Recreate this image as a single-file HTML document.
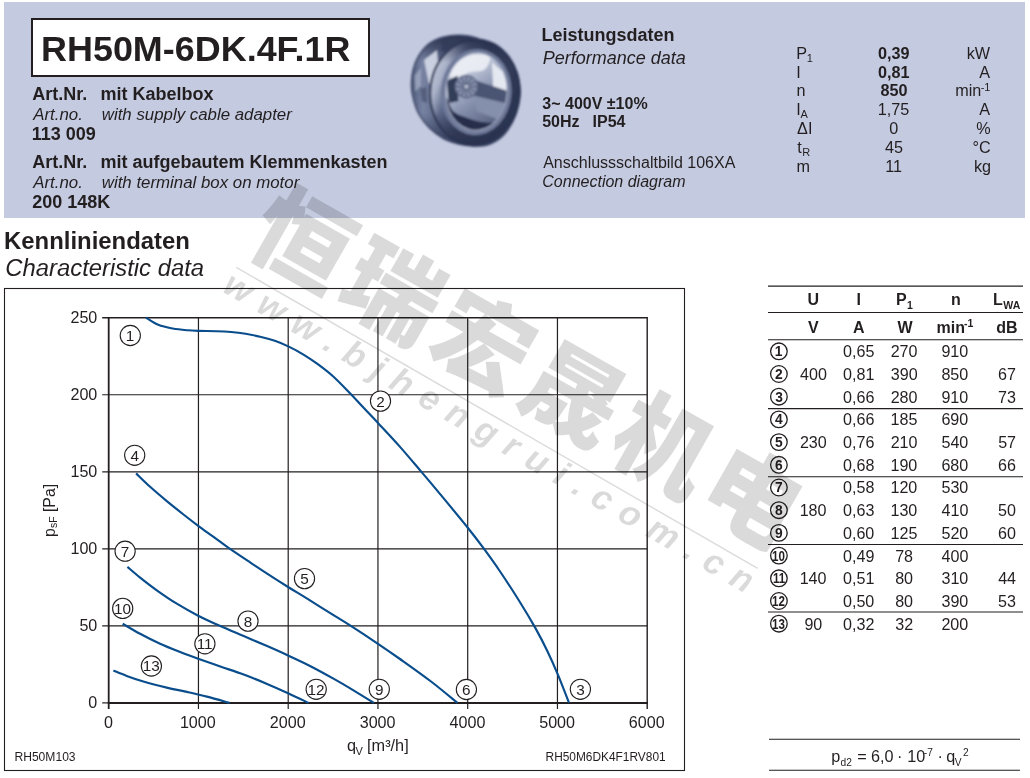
<!DOCTYPE html>
<html lang="de"><head><meta charset="utf-8"><title>RH50M-6DK.4F.1R</title>
<style>
html,body{margin:0;padding:0}
body{width:1030px;height:778px;position:relative;overflow:hidden;background:#fff;font-family:"Liberation Sans","Noto Sans CJK SC",sans-serif;color:#231f20}
.abs{position:absolute}
.band{position:absolute;left:4px;top:2px;width:1021px;height:216px;background:#c4cae0}
.title{position:absolute;left:31px;top:18px;width:335px;height:54.5px;border:2px solid #231f20;background:#fff}
.t{position:absolute;white-space:pre;transform-origin:0 0}
.b{font-weight:bold}
.i{font-style:italic}
</style></head>
<body>
<div class="band"></div>
<div class="title"></div>
<svg class="abs" style="left:400px;top:24px" width="130" height="132" viewBox="400 24 130 132">
<defs>
<filter id="fb1" x="-10%" y="-10%" width="120%" height="120%"><feGaussianBlur stdDeviation="0.9"/></filter>
<filter id="fb2" x="-30%" y="-30%" width="160%" height="160%"><feGaussianBlur stdDeviation="1.8"/></filter>
<linearGradient id="fgHull" x1="0" y1="0" x2="1" y2="0"><stop offset="0" stop-color="#4d5878"/><stop offset="0.1" stop-color="#7883a3"/><stop offset="0.25" stop-color="#5f6a8a"/><stop offset="1" stop-color="#364060"/></linearGradient>
<linearGradient id="fgV" x1="0" y1="0" x2="0" y2="1"><stop offset="0" stop-color="#242c48" stop-opacity="0.9"/><stop offset="0.24" stop-color="#272f4c" stop-opacity="0"/><stop offset="0.7" stop-color="#272f4c" stop-opacity="0"/><stop offset="1" stop-color="#272f4c" stop-opacity="0.8"/></linearGradient>
<linearGradient id="fgRing" x1="0" y1="0.2" x2="1" y2="0.6"><stop offset="0" stop-color="#c3c9d9"/><stop offset="0.16" stop-color="#aab3c9"/><stop offset="0.29" stop-color="#5f6a8a"/><stop offset="0.5" stop-color="#3a4463"/><stop offset="1" stop-color="#2a3350"/></linearGradient>
<linearGradient id="fgIn" x1="0.1" y1="0" x2="0.75" y2="1"><stop offset="0" stop-color="#e6e9f1"/><stop offset="0.3" stop-color="#bcc4d7"/><stop offset="0.6" stop-color="#8792af"/><stop offset="1" stop-color="#55607e"/></linearGradient>
</defs>
<clipPath id="fcIn"><ellipse cx="476.4" cy="91.7" rx="30.3" ry="38.2" transform="rotate(4 476.4 91.7)"/></clipPath>
<g filter="url(#fb1)">
<path d="M411.5 86.5C411.5 81.7 411.8 75.5 413.0 70.4C414.2 65.3 415.9 60.5 418.7 56.0C421.5 51.6 425.3 46.6 429.5 43.5C433.7 40.3 439.1 38.4 443.9 37.1C448.7 35.7 453.0 35.2 458.4 35.3C463.8 35.5 469.2 35.5 476.4 38.0C483.6 40.6 495.3 45.8 501.6 50.6C507.9 55.4 511.1 60.7 514.2 66.7C517.2 72.7 519.2 80.2 519.9 86.5C520.6 92.8 519.9 98.5 518.6 104.5C517.4 110.5 515.1 117.1 512.3 122.5C509.4 127.9 505.8 133.1 501.6 136.8C497.4 140.6 491.6 143.5 487.1 145.0C482.6 146.5 479.3 146.1 474.5 145.9C469.7 145.8 463.5 145.2 458.4 144.0C453.3 142.8 448.7 141.4 443.9 138.8C439.1 136.1 433.7 132.1 429.5 127.9C425.3 123.7 421.4 118.4 418.7 113.6C416.0 108.8 414.6 103.6 413.4 99.1C412.3 94.6 411.6 91.3 411.5 86.5Z" fill="url(#fgHull)"/>
<path d="M411.5 86.5C411.5 81.7 411.8 75.5 413.0 70.4C414.2 65.3 415.9 60.5 418.7 56.0C421.5 51.6 425.3 46.6 429.5 43.5C433.7 40.3 439.1 38.4 443.9 37.1C448.7 35.7 453.0 35.2 458.4 35.3C463.8 35.5 469.2 35.5 476.4 38.0C483.6 40.6 495.3 45.8 501.6 50.6C507.9 55.4 511.1 60.7 514.2 66.7C517.2 72.7 519.2 80.2 519.9 86.5C520.6 92.8 519.9 98.5 518.6 104.5C517.4 110.5 515.1 117.1 512.3 122.5C509.4 127.9 505.8 133.1 501.6 136.8C497.4 140.6 491.6 143.5 487.1 145.0C482.6 146.5 479.3 146.1 474.5 145.9C469.7 145.8 463.5 145.2 458.4 144.0C453.3 142.8 448.7 141.4 443.9 138.8C439.1 136.1 433.7 132.1 429.5 127.9C425.3 123.7 421.4 118.4 418.7 113.6C416.0 108.8 414.6 103.6 413.4 99.1C412.3 94.6 411.6 91.3 411.5 86.5Z" fill="url(#fgV)"/>
<path d="M411.5 86.5C411.5 81.7 411.8 75.5 413.0 70.4C414.2 65.3 415.9 60.5 418.7 56.0C421.5 51.6 425.3 46.6 429.5 43.5C433.7 40.3 439.1 38.4 443.9 37.1C448.7 35.7 453.0 35.2 458.4 35.3C463.8 35.5 469.2 35.5 476.4 38.0C483.6 40.6 495.3 45.8 501.6 50.6C507.9 55.4 511.1 60.7 514.2 66.7C517.2 72.7 519.2 80.2 519.9 86.5C520.6 92.8 519.9 98.5 518.6 104.5C517.4 110.5 515.1 117.1 512.3 122.5C509.4 127.9 505.8 133.1 501.6 136.8C497.4 140.6 491.6 143.5 487.1 145.0C482.6 146.5 479.3 146.1 474.5 145.9C469.7 145.8 463.5 145.2 458.4 144.0C453.3 142.8 448.7 141.4 443.9 138.8C439.1 136.1 433.7 132.1 429.5 127.9C425.3 123.7 421.4 118.4 418.7 113.6C416.0 108.8 414.6 103.6 413.4 99.1C412.3 94.6 411.6 91.3 411.5 86.5Z" fill="none" stroke="#414b69" stroke-width="1.6"/>
<path d="M424.1 59.9L436.9 50.3L439.3 77.4L428.9 83.8Z" fill="#d5dae8" opacity="0.9"/>
<path d="M442.5 41.5L457.6 37.6L452.8 50.3L440.9 51.9Z" fill="#333c59" opacity="0.85"/>
<path d="M439.3 72.6L446.8 69.8L446.8 82.2L440.4 83.8Z" fill="#3a4361" opacity="0.8"/>
<path d="M420.1 88.6L426.5 87.0L427.3 102.9L421.7 101.3Z" fill="#49536f" opacity="0.7"/>
<path d="M414.6 75.8L420.9 67.8L420.9 85.4L415.4 91.7Z" fill="#aab3c9" opacity="0.7"/>
<ellipse cx="474.8" cy="92.5" rx="45.4" ry="53.7" transform="rotate(4 474.8 92.5)" fill="url(#fgRing)"/>
<ellipse cx="474.8" cy="92.5" rx="45.4" ry="53.7" transform="rotate(4 474.8 92.5)" fill="url(#fgV)"/>
<ellipse cx="474.8" cy="92.5" rx="44.6" ry="52.9" transform="rotate(4 474.8 92.5)" fill="none" stroke="#2c3552" stroke-width="2.2"/>
<ellipse cx="476.1" cy="92.1" rx="35.4" ry="43.0" transform="rotate(4 476.1 92.1)" fill="#6f7a9a"/>
<ellipse cx="476.4" cy="91.7" rx="31.2" ry="39.2" transform="rotate(4 476.4 91.7)" fill="#aab3c9"/>
<ellipse cx="476.4" cy="91.7" rx="30.3" ry="38.2" transform="rotate(4 476.4 91.7)" fill="url(#fgIn)"/>
<g clip-path="url(#fcIn)">
<path d="M450.4 75.8C450.4 72.8 453.7 65.7 457.6 62.3C461.4 58.8 468.2 56.0 473.5 55.1C478.8 54.2 487.6 54.3 489.5 56.7C491.3 59.1 488.1 66.8 484.7 69.4C481.2 72.1 473.3 70.8 468.7 72.6C464.2 74.5 460.6 80.1 457.6 80.6C454.5 81.1 450.4 78.9 450.4 75.8Z" fill="#eceef5" opacity="0.9"/>
<path d="M491.9 62.3L507.8 75.8L507.8 104.5L493.4 94.9Z" fill="#e4e8f1"/>
<path d="M473.5 79.8L507.8 90.9L507.8 103.7L473.5 95.7Z" fill="#4a5472"/>
<path d="M473.5 95.7L507.8 103.7L500.6 120.4L476.7 110.9Z" fill="#8590ad"/>
<path d="M446.8 98.1C447.6 98.7 449.7 107.7 452.8 110.9C455.9 114.1 460.8 115.4 465.6 117.2C470.3 119.1 476.2 121.0 481.5 122.0C486.8 123.1 496.4 122.3 497.4 123.6C498.5 124.9 492.1 128.8 487.9 130.0C483.6 131.2 477.2 132.1 471.9 130.8C466.6 129.5 460.0 125.9 456.0 122.0C452.0 118.2 449.2 111.7 447.7 107.7C446.2 103.7 445.9 97.6 446.8 98.1Z" fill="#262e4b"/>
<path d="M446.8 80.6L457.6 75.8L458.4 101.3L448.8 102.9Z" fill="#333c59"/>
<circle cx="466.4" cy="86.6" r="11.2" fill="#8690ab"/>
<path d="M466.4 86.6L477.2 86.6M466.4 86.6L475.7 92.1M466.4 86.6L471.8 96.0M466.4 86.6L466.4 97.5M466.4 86.6L460.9 96.0M466.4 86.6L457.0 92.1M466.4 86.6L455.5 86.6M466.4 86.6L457.0 81.2M466.4 86.6L460.9 77.3M466.4 86.6L466.4 75.8M466.4 86.6L471.8 77.3M466.4 86.6L475.7 81.2" stroke="#4f5976" stroke-width="1.1"/>
<circle cx="466.4" cy="86.6" r="11.2" fill="none" stroke="#5b6582" stroke-width="1.2"/>
<circle cx="466.4" cy="86.6" r="2.2" fill="#b5bdd0"/>
</g>
</g>
</svg>

<svg class="abs" style="left:0;top:0" width="1030" height="778" viewBox="0 0 1030 778">
<rect x="4.5" y="288.5" width="680" height="482" fill="none" stroke="#231f20" stroke-width="1.1"/>
<path d="M198.45 317.7V708.9M288.2 317.7V708.9M377.95 317.7V708.9M467.7 317.7V708.9M557.45 317.7V708.9M102.2 625.86H647.2M102.2 548.82H647.2M102.2 471.78H647.2M102.2 394.74H647.2" stroke="#231f20" stroke-width="1.2" fill="none"/>
<path d="M102.2 317.7H647.2V702.9 M647.2 702.9v6" stroke="#231f20" stroke-width="1.4" fill="none"/>
<path d="M108.7 317.7V708.9" stroke="#231f20" stroke-width="1.8" fill="none"/>
<path d="M107.8 702.9H647.9" stroke="#231f20" stroke-width="2" fill="none"/>
<path d="M102.2 702.9H108.7" stroke="#231f20" stroke-width="1.2" fill="none"/>
<path d="M146 317.6C148.05 318.8 153.83 322.98 158.3 324.8C162.77 326.62 167.95 327.58 172.8 328.5C177.65 329.42 183.12 329.9 187.4 330.3C191.68 330.7 193.65 330.75 198.5 330.9C203.35 331.05 211.07 331.02 216.5 331.2C221.93 331.38 226.25 331.57 231.1 332C235.95 332.43 240.75 333.02 245.6 333.8C250.45 334.58 255.33 335.53 260.2 336.7C265.07 337.87 270.03 339.15 274.8 340.8C279.57 342.45 283.95 344.27 288.8 346.6C293.65 348.93 298.95 351.78 303.9 354.8C308.85 357.82 313.65 361.12 318.5 364.7C323.35 368.28 327.67 371.45 333 376.3C338.33 381.15 345.63 388.8 350.5 393.8C355.37 398.8 357.58 401.4 362.2 406.3C366.82 411.2 371.93 416.48 378.2 423.2C384.47 429.92 392.73 438.65 399.8 446.6C406.87 454.55 413.95 463.07 420.6 470.9C427.25 478.73 431.87 484.17 439.7 493.6C447.53 503.03 460.3 518.4 467.6 527.5C474.9 536.6 478.2 541.03 483.5 548.2C488.8 555.37 493.42 561.67 499.4 570.5C505.38 579.33 513.42 591.63 519.4 601.2C525.38 610.77 530.65 619.6 535.3 627.9C539.95 636.2 543.52 643.17 547.3 651C551.08 658.83 554.38 666.25 558 674.9C561.62 683.55 567.17 698.23 569 702.9" stroke="#0a4d8c" stroke-width="2.15" fill="none" stroke-linecap="butt"/>
<path d="M136.1 473.4C138.43 475.63 144.98 482.18 150.1 486.8C155.22 491.42 161.23 496.48 166.8 501.1C172.37 505.72 178.27 510.38 183.5 514.5C188.73 518.62 193.18 522.07 198.2 525.8C203.22 529.53 208.53 533.22 213.6 536.9C218.67 540.58 222.47 543.62 228.6 547.9C234.73 552.18 243.98 558.32 250.4 562.6C256.82 566.88 260.82 569.53 267.1 573.6C273.38 577.67 281.42 582.82 288.1 587C294.78 591.18 299.57 593.97 307.2 598.7C314.83 603.43 326.95 611.07 333.9 615.4C340.85 619.73 341.55 619.97 348.9 624.7C356.25 629.43 369.48 638.08 378 643.8C386.52 649.52 391.05 652.63 400 659C408.95 665.37 422.13 674.68 431.7 682C441.27 689.32 453.12 699.42 457.4 702.9" stroke="#0a4d8c" stroke-width="2.15" fill="none" stroke-linecap="butt"/>
<path d="M127.4 566.9C129.52 568.68 135.2 573.7 140.1 577.6C145 581.5 150.68 585.95 156.8 590.3C162.92 594.65 169.9 599.47 176.8 603.7C183.7 607.93 190.95 611.97 198.2 615.7C205.45 619.43 212.72 622.7 220.3 626.1C227.88 629.5 235.9 632.77 243.7 636.1C251.5 639.43 259.7 642.87 267.1 646.1C274.5 649.33 280.87 652.15 288.1 655.5C295.33 658.85 302.87 662.3 310.5 666.2C318.13 670.1 326.67 674.83 333.9 678.9C341.13 682.97 347.25 686.6 353.9 690.6C360.55 694.6 370.48 700.85 373.8 702.9" stroke="#0a4d8c" stroke-width="2.15" fill="none" stroke-linecap="butt"/>
<path d="M122.7 623.7C125.6 625.38 133.87 630.45 140.1 633.8C146.33 637.15 153.42 640.75 160.1 643.8C166.78 646.85 173.85 649.6 180.2 652.1C186.55 654.6 191.52 656.4 198.2 658.8C204.88 661.2 212.72 663.88 220.3 666.5C227.88 669.12 235.9 671.6 243.7 674.5C251.5 677.4 259.7 680.78 267.1 683.9C274.5 687.02 281.18 690.03 288.1 693.2C295.02 696.37 305.18 701.28 308.6 702.9" stroke="#0a4d8c" stroke-width="2.15" fill="none" stroke-linecap="butt"/>
<path d="M113.4 670.5C115.62 671.4 121.7 674.07 126.7 675.9C131.7 677.73 136.72 679.55 143.4 681.5C150.08 683.45 159.55 685.87 166.8 687.6C174.05 689.33 180.22 690.4 186.9 691.9C193.58 693.4 199.78 694.77 206.9 696.6C214.02 698.43 225.82 701.85 229.6 702.9" stroke="#0a4d8c" stroke-width="2.15" fill="none" stroke-linecap="butt"/>
<circle cx="130.3" cy="335.5" r="10.1" fill="#fff" stroke="#231f20" stroke-width="1.1"/>
<circle cx="380.5" cy="401.1" r="10.1" fill="#fff" stroke="#231f20" stroke-width="1.1"/>
<circle cx="580.4" cy="689.3" r="10.1" fill="#fff" stroke="#231f20" stroke-width="1.1"/>
<circle cx="134.7" cy="455.3" r="10.1" fill="#fff" stroke="#231f20" stroke-width="1.1"/>
<circle cx="304.5" cy="578.6" r="10.1" fill="#fff" stroke="#231f20" stroke-width="1.1"/>
<circle cx="466.4" cy="689.5" r="10.1" fill="#fff" stroke="#231f20" stroke-width="1.1"/>
<circle cx="125.1" cy="551.2" r="10.1" fill="#fff" stroke="#231f20" stroke-width="1.1"/>
<circle cx="248" cy="621.1" r="10.1" fill="#fff" stroke="#231f20" stroke-width="1.1"/>
<circle cx="379.3" cy="689.3" r="10.1" fill="#fff" stroke="#231f20" stroke-width="1.1"/>
<circle cx="122.7" cy="608.4" r="10.1" fill="#fff" stroke="#231f20" stroke-width="1.1"/>
<circle cx="204.9" cy="643.8" r="10.1" fill="#fff" stroke="#231f20" stroke-width="1.1"/>
<circle cx="316.2" cy="689.3" r="10.1" fill="#fff" stroke="#231f20" stroke-width="1.1"/>
<circle cx="151.4" cy="666" r="10.1" fill="#fff" stroke="#231f20" stroke-width="1.1"/>
<text transform="translate(54.6 536.9) rotate(-90)" font-size="15.8" fill="#231f20">p<tspan font-size="10.5" dy="2.6">sF</tspan><tspan dy="-2.6"> [Pa]</tspan></text>
</svg>
<svg class="abs" style="left:0;top:0" width="1030" height="778" viewBox="0 0 1030 778">
<path d="M768 286.1H1023M768 312.5H1023M768 339.8H1023M768 408.6H1023M768 476.7H1023M768 544.4H1023M768 612H1023M769 739.2H1020M769 770.3H1020" stroke="#231f20" stroke-width="1.05" fill="none"/>
<circle cx="778.9" cy="351.3" r="8.3" fill="none" stroke="#231f20" stroke-width="1.3"/>
<circle cx="778.9" cy="374" r="8.3" fill="none" stroke="#231f20" stroke-width="1.3"/>
<circle cx="778.9" cy="396.7" r="8.3" fill="none" stroke="#231f20" stroke-width="1.3"/>
<circle cx="778.9" cy="419.4" r="8.3" fill="none" stroke="#231f20" stroke-width="1.3"/>
<circle cx="778.9" cy="442.1" r="8.3" fill="none" stroke="#231f20" stroke-width="1.3"/>
<circle cx="778.9" cy="464.8" r="8.3" fill="none" stroke="#231f20" stroke-width="1.3"/>
<circle cx="778.9" cy="487.5" r="8.3" fill="none" stroke="#231f20" stroke-width="1.3"/>
<circle cx="778.9" cy="510.2" r="8.3" fill="none" stroke="#231f20" stroke-width="1.3"/>
<circle cx="778.9" cy="532.9" r="8.3" fill="none" stroke="#231f20" stroke-width="1.3"/>
<circle cx="778.9" cy="555.6" r="8.3" fill="none" stroke="#231f20" stroke-width="1.3"/>
<circle cx="778.9" cy="578.3" r="8.3" fill="none" stroke="#231f20" stroke-width="1.3"/>
<circle cx="778.9" cy="601" r="8.3" fill="none" stroke="#231f20" stroke-width="1.3"/>
<circle cx="778.9" cy="623.7" r="8.3" fill="none" stroke="#231f20" stroke-width="1.3"/>
</svg>
<span class="t b" style="left:41.35px;top:29px;font-size:35.6px;line-height:40px;transform:scaleX(1.01)">RH50M-6DK.4F.1R</span>
<span class="t b" style="left:32.15px;top:84px;font-size:18px;line-height:20px">Art.Nr.</span>
<span class="t b" style="left:100.53px;top:84px;font-size:18px;line-height:20px">mit Kabelbox</span>
<span class="t i" style="left:33.24px;top:105px;font-size:16.85px;line-height:19px">Art.no.</span>
<span class="t i" style="left:101.76px;top:105px;font-size:16.85px;line-height:19px">with supply cable adapter</span>
<span class="t b" style="left:31.72px;top:124px;font-size:18px;line-height:20px">113 009</span>
<span class="t b" style="left:32.15px;top:152px;font-size:18px;line-height:20px">Art.Nr.</span>
<span class="t b" style="left:100.53px;top:152px;font-size:18px;line-height:20px">mit aufgebautem Klemmenkasten</span>
<span class="t i" style="left:33.24px;top:173px;font-size:16.85px;line-height:19px">Art.no.</span>
<span class="t i" style="left:101.76px;top:173px;font-size:16.85px;line-height:19px">with terminal box on motor</span>
<span class="t b" style="left:32.17px;top:192px;font-size:18px;line-height:20px">200 148K</span>
<span class="t b" style="left:541.53px;top:25px;font-size:18px;line-height:20px">Leistungsdaten</span>
<span class="t i" style="left:542.66px;top:48px;font-size:18px;line-height:20px">Performance data</span>
<span class="t b" style="left:542.3px;top:95px;font-size:16px;line-height:17px">3~ 400V ±10%</span>
<span class="t b" style="left:542.22px;top:113px;font-size:16px;line-height:17px">50Hz</span>
<span class="t b" style="left:592.6px;top:113px;font-size:16px;line-height:17px">IP54</span>
<span class="t" style="left:543.2px;top:154px;font-size:16px;line-height:17px">Anschlussschaltbild 106XA</span>
<span class="t i" style="left:542.32px;top:173px;font-size:16px;line-height:17px">Connection diagram</span>
<span class="t" style="left:796.3px;top:44px;font-size:16.2px;line-height:18px">P</span>
<span class="t" style="left:806.84px;top:52px;font-size:11px;line-height:12px">1</span>
<span class="t b" style="left:878.11px;top:44px;font-size:16.2px;line-height:18px">0,39</span>
<span class="t" style="left:966.67px;top:44px;font-size:16.2px;line-height:18px">kW</span>
<span class="t" style="left:796.14px;top:63px;font-size:16.2px;line-height:18px">I</span>
<span class="t b" style="left:878.02px;top:63px;font-size:16.2px;line-height:18px">0,81</span>
<span class="t" style="left:979.23px;top:63px;font-size:16.2px;line-height:18px">A</span>
<span class="t" style="left:796.55px;top:81px;font-size:16.2px;line-height:18px">n</span>
<span class="t b" style="left:880.49px;top:81px;font-size:16.2px;line-height:18px">850</span>
<span class="t" style="left:980.71px;top:81px;font-size:11px;line-height:12px">-1</span>
<span class="t" style="left:955.17px;top:81px;font-size:16.2px;line-height:18px">min</span>
<span class="t" style="left:796.14px;top:100px;font-size:16.2px;line-height:18px">I</span>
<span class="t" style="left:800.54px;top:108px;font-size:11px;line-height:12px">A</span>
<span class="t" style="left:877.86px;top:100px;font-size:16.2px;line-height:18px">1,75</span>
<span class="t" style="left:979.23px;top:100px;font-size:16.2px;line-height:18px">A</span>
<span class="t" style="left:797.11px;top:119px;font-size:16.2px;line-height:18px">ΔI</span>
<span class="t" style="left:889.36px;top:119px;font-size:16.2px;line-height:18px">0</span>
<span class="t" style="left:976.15px;top:119px;font-size:16.2px;line-height:18px">%</span>
<span class="t" style="left:797.36px;top:138px;font-size:16.2px;line-height:18px">t</span>
<span class="t" style="left:802.25px;top:146px;font-size:11px;line-height:12px">R</span>
<span class="t" style="left:885.07px;top:138px;font-size:16.2px;line-height:18px">45</span>
<span class="t" style="left:972.42px;top:138px;font-size:16.2px;line-height:18px">°C</span>
<span class="t" style="left:796.55px;top:157px;font-size:16.2px;line-height:18px">m</span>
<span class="t" style="left:885.27px;top:157px;font-size:16.2px;line-height:18px">11</span>
<span class="t" style="left:973.96px;top:157px;font-size:16.2px;line-height:18px">kg</span>
<span class="t b" style="left:4.05px;top:227px;font-size:23.9px;line-height:27px">Kennliniendaten</span>
<span class="t i" style="left:5.29px;top:254px;font-size:23.85px;line-height:27px">Characteristic data</span>
<span class="t" style="left:125.82px;top:327px;font-size:15.3px;line-height:17px">1</span>
<span class="t" style="left:376.25px;top:393px;font-size:15.3px;line-height:17px">2</span>
<span class="t" style="left:576.15px;top:681px;font-size:15.3px;line-height:17px">3</span>
<span class="t" style="left:130.53px;top:447px;font-size:15.3px;line-height:17px">4</span>
<span class="t" style="left:300.25px;top:570px;font-size:15.3px;line-height:17px">5</span>
<span class="t" style="left:462.08px;top:681px;font-size:15.3px;line-height:17px">6</span>
<span class="t" style="left:120.85px;top:543px;font-size:15.3px;line-height:17px">7</span>
<span class="t" style="left:243.72px;top:613px;font-size:15.3px;line-height:17px">8</span>
<span class="t" style="left:375.05px;top:681px;font-size:15.3px;line-height:17px">9</span>
<span class="t" style="left:113.9px;top:600px;font-size:15.3px;line-height:17px">10</span>
<span class="t" style="left:196.75px;top:635px;font-size:15.3px;line-height:17px">11</span>
<span class="t" style="left:307.52px;top:681px;font-size:15.3px;line-height:17px">12</span>
<span class="t" style="left:142.64px;top:657px;font-size:15.3px;line-height:17px">13</span>
<span class="t" style="left:88.33px;top:693px;font-size:16.1px;line-height:18px">0</span>
<span class="t" style="left:79.39px;top:616px;font-size:16.1px;line-height:18px">50</span>
<span class="t" style="left:70.46px;top:539px;font-size:16.1px;line-height:18px">100</span>
<span class="t" style="left:70.46px;top:462px;font-size:16.1px;line-height:18px">150</span>
<span class="t" style="left:70.46px;top:385px;font-size:16.1px;line-height:18px">200</span>
<span class="t" style="left:70.46px;top:308px;font-size:16.1px;line-height:18px">250</span>
<span class="t" style="left:103.89px;top:713px;font-size:16.1px;line-height:18px">0</span>
<span class="t" style="left:179.92px;top:713px;font-size:16.1px;line-height:18px">1000</span>
<span class="t" style="left:269.87px;top:713px;font-size:16.1px;line-height:18px">2000</span>
<span class="t" style="left:359.7px;top:713px;font-size:16.1px;line-height:18px">3000</span>
<span class="t" style="left:449.61px;top:713px;font-size:16.1px;line-height:18px">4000</span>
<span class="t" style="left:539.2px;top:713px;font-size:16.1px;line-height:18px">5000</span>
<span class="t" style="left:628.87px;top:713px;font-size:16.1px;line-height:18px">6000</span>
<span class="t" style="left:347.05px;top:736px;font-size:16.3px;line-height:18px">q</span>
<span class="t" style="left:355.55px;top:745px;font-size:11px;line-height:12px">V</span>
<span class="t" style="left:367.06px;top:736px;font-size:16.3px;line-height:18px">[m³/h]</span>
<span class="t" style="left:14.43px;top:750px;font-size:12.1px;line-height:14px">RH50M103</span>
<span class="t" style="left:545.55px;top:750px;font-size:11.9px;line-height:14px">RH50M6DK4F1RV801</span>
<span class="t b" style="left:807.44px;top:291px;font-size:16px;line-height:17px">U</span>
<span class="t b" style="left:856.6px;top:291px;font-size:16px;line-height:17px">I</span>
<span class="t b" style="left:896.06px;top:291px;font-size:16px;line-height:17px">P</span>
<span class="t b" style="left:906.97px;top:299px;font-size:10.5px;line-height:12px">1</span>
<span class="t b" style="left:950.98px;top:291px;font-size:16px;line-height:17px">n</span>
<span class="t b" style="left:992.96px;top:291px;font-size:16px;line-height:17px">L</span>
<span class="t b" style="left:1003.3px;top:299px;font-size:10.5px;line-height:12px">WA</span>
<span class="t b" style="left:807.88px;top:319px;font-size:16px;line-height:17px">V</span>
<span class="t b" style="left:853.04px;top:319px;font-size:16px;line-height:17px">A</span>
<span class="t b" style="left:897.44px;top:319px;font-size:16px;line-height:17px">W</span>
<span class="t b" style="left:936.56px;top:319px;font-size:16px;line-height:17px">min</span>
<span class="t b" style="left:963.98px;top:317px;font-size:10.5px;line-height:12px">-1</span>
<span class="t b" style="left:996.3px;top:319px;font-size:16px;line-height:17px">dB</span>
<span class="t" style="left:843.04px;top:342px;font-size:16.1px;line-height:18px">0,65</span>
<span class="t" style="left:890.68px;top:342px;font-size:16.1px;line-height:18px">270</span>
<span class="t" style="left:941.42px;top:342px;font-size:16.1px;line-height:18px">910</span>
<span class="t b" style="left:774.83px;top:344px;font-size:13.8px;line-height:15px">1</span>
<span class="t" style="left:800.12px;top:365px;font-size:16.1px;line-height:18px">400</span>
<span class="t" style="left:843.08px;top:365px;font-size:16.1px;line-height:18px">0,81</span>
<span class="t" style="left:890.76px;top:365px;font-size:16.1px;line-height:18px">390</span>
<span class="t" style="left:941.42px;top:365px;font-size:16.1px;line-height:18px">850</span>
<span class="t" style="left:998.06px;top:365px;font-size:16.1px;line-height:18px">67</span>
<span class="t b" style="left:775.11px;top:367px;font-size:13.8px;line-height:15px">2</span>
<span class="t" style="left:843.04px;top:388px;font-size:16.1px;line-height:18px">0,66</span>
<span class="t" style="left:890.68px;top:388px;font-size:16.1px;line-height:18px">280</span>
<span class="t" style="left:941.42px;top:388px;font-size:16.1px;line-height:18px">910</span>
<span class="t" style="left:997.98px;top:388px;font-size:16.1px;line-height:18px">73</span>
<span class="t b" style="left:775.14px;top:390px;font-size:13.8px;line-height:15px">3</span>
<span class="t" style="left:843.04px;top:410px;font-size:16.1px;line-height:18px">0,66</span>
<span class="t" style="left:890.52px;top:410px;font-size:16.1px;line-height:18px">185</span>
<span class="t" style="left:941.38px;top:410px;font-size:16.1px;line-height:18px">690</span>
<span class="t b" style="left:775px;top:412px;font-size:13.8px;line-height:15px">4</span>
<span class="t" style="left:799.88px;top:433px;font-size:16.1px;line-height:18px">230</span>
<span class="t" style="left:843.04px;top:433px;font-size:16.1px;line-height:18px">0,76</span>
<span class="t" style="left:890.68px;top:433px;font-size:16.1px;line-height:18px">210</span>
<span class="t" style="left:941.46px;top:433px;font-size:16.1px;line-height:18px">540</span>
<span class="t" style="left:998.14px;top:433px;font-size:16.1px;line-height:18px">57</span>
<span class="t b" style="left:775.04px;top:435px;font-size:13.8px;line-height:15px">5</span>
<span class="t" style="left:843.04px;top:456px;font-size:16.1px;line-height:18px">0,68</span>
<span class="t" style="left:890.47px;top:456px;font-size:16.1px;line-height:18px">190</span>
<span class="t" style="left:941.38px;top:456px;font-size:16.1px;line-height:18px">680</span>
<span class="t" style="left:997.98px;top:456px;font-size:16.1px;line-height:18px">66</span>
<span class="t b" style="left:775.07px;top:458px;font-size:13.8px;line-height:15px">6</span>
<span class="t" style="left:843.04px;top:478px;font-size:16.1px;line-height:18px">0,58</span>
<span class="t" style="left:890.47px;top:478px;font-size:16.1px;line-height:18px">120</span>
<span class="t" style="left:941.46px;top:478px;font-size:16.1px;line-height:18px">530</span>
<span class="t b" style="left:775.07px;top:480px;font-size:13.8px;line-height:15px">7</span>
<span class="t" style="left:799.67px;top:501px;font-size:16.1px;line-height:18px">180</span>
<span class="t" style="left:843.04px;top:501px;font-size:16.1px;line-height:18px">0,63</span>
<span class="t" style="left:890.47px;top:501px;font-size:16.1px;line-height:18px">130</span>
<span class="t" style="left:941.62px;top:501px;font-size:16.1px;line-height:18px">410</span>
<span class="t" style="left:998.02px;top:501px;font-size:16.1px;line-height:18px">50</span>
<span class="t b" style="left:775.07px;top:503px;font-size:13.8px;line-height:15px">8</span>
<span class="t" style="left:843px;top:524px;font-size:16.1px;line-height:18px">0,60</span>
<span class="t" style="left:890.52px;top:524px;font-size:16.1px;line-height:18px">125</span>
<span class="t" style="left:941.46px;top:524px;font-size:16.1px;line-height:18px">520</span>
<span class="t" style="left:997.94px;top:524px;font-size:16.1px;line-height:18px">60</span>
<span class="t b" style="left:775.07px;top:526px;font-size:13.8px;line-height:15px">9</span>
<span class="t" style="left:843.08px;top:547px;font-size:16.1px;line-height:18px">0,49</span>
<span class="t" style="left:895.18px;top:547px;font-size:16.1px;line-height:18px">78</span>
<span class="t" style="left:941.62px;top:547px;font-size:16.1px;line-height:18px">400</span>
<span class="t b" style="left:772.35px;top:549px;font-size:13.8px;line-height:15px;transform:scaleX(0.84)">10</span>
<span class="t" style="left:799.67px;top:569px;font-size:16.1px;line-height:18px">140</span>
<span class="t" style="left:843.08px;top:569px;font-size:16.1px;line-height:18px">0,51</span>
<span class="t" style="left:895.18px;top:569px;font-size:16.1px;line-height:18px">80</span>
<span class="t" style="left:941.46px;top:569px;font-size:16.1px;line-height:18px">310</span>
<span class="t" style="left:998.14px;top:569px;font-size:16.1px;line-height:18px">44</span>
<span class="t b" style="left:772.58px;top:571px;font-size:13.8px;line-height:15px;transform:scaleX(0.84)">11</span>
<span class="t" style="left:843px;top:592px;font-size:16.1px;line-height:18px">0,50</span>
<span class="t" style="left:895.18px;top:592px;font-size:16.1px;line-height:18px">80</span>
<span class="t" style="left:941.46px;top:592px;font-size:16.1px;line-height:18px">390</span>
<span class="t" style="left:998.06px;top:592px;font-size:16.1px;line-height:18px">53</span>
<span class="t b" style="left:772.35px;top:594px;font-size:13.8px;line-height:15px;transform:scaleX(0.84)">12</span>
<span class="t" style="left:804.38px;top:615px;font-size:16.1px;line-height:18px">90</span>
<span class="t" style="left:843.12px;top:615px;font-size:16.1px;line-height:18px">0,32</span>
<span class="t" style="left:895.35px;top:615px;font-size:16.1px;line-height:18px">32</span>
<span class="t" style="left:941.38px;top:615px;font-size:16.1px;line-height:18px">200</span>
<span class="t b" style="left:772.32px;top:617px;font-size:13.8px;line-height:15px;transform:scaleX(0.84)">13</span>
<span class="t" style="left:831.15px;top:747px;font-size:16.2px;line-height:18px">p</span>
<span class="t" style="left:840.59px;top:757px;font-size:10.2px;line-height:11px">d2</span>
<span class="t" style="left:857.19px;top:747px;font-size:16.2px;line-height:18px">=</span>
<span class="t" style="left:870.99px;top:747px;font-size:16.2px;line-height:18px">6,0</span>
<span class="t" style="left:896.89px;top:747px;font-size:16.2px;line-height:18px">·</span>
<span class="t" style="left:907.18px;top:747px;font-size:16.2px;line-height:18px">10</span>
<span class="t" style="left:923.84px;top:747px;font-size:10.2px;line-height:11px">-7</span>
<span class="t" style="left:937.59px;top:747px;font-size:16.2px;line-height:18px">·</span>
<span class="t" style="left:946.15px;top:747px;font-size:16.2px;line-height:18px">q</span>
<span class="t" style="left:954.85px;top:757px;font-size:10.2px;line-height:11px">V</span>
<span class="t" style="left:962.89px;top:747px;font-size:10.2px;line-height:11px">2</span>
<svg class="abs" style="left:0;top:0;pointer-events:none" width="1030" height="778" viewBox="0 0 1030 778">
<defs><clipPath id="wmc"><rect x="-30" y="-140" width="632" height="190"/></clipPath></defs>
<g transform="translate(236.3 267.4) rotate(30.0)" fill="#000" fill-opacity="0.145">
<g clip-path="url(#wmc)">
<text transform="translate(-4.4 -20.5) rotate(-0.4) skewX(0)" font-family="'Noto Sans CJK SC','WenQuanYi Zen Hei',sans-serif" font-weight="900" font-size="97" letter-spacing="6.8">恒瑞宏晟机电</text>
<rect x="0" y="-0.7" width="602" height="1.4"/>
<text x="-1.5" y="28" font-family="'Liberation Sans',sans-serif" font-weight="bold" font-style="italic" font-size="35" letter-spacing="11.8">www.bjhengrui.com.cn</text>
</g></g></svg>

</body></html>
